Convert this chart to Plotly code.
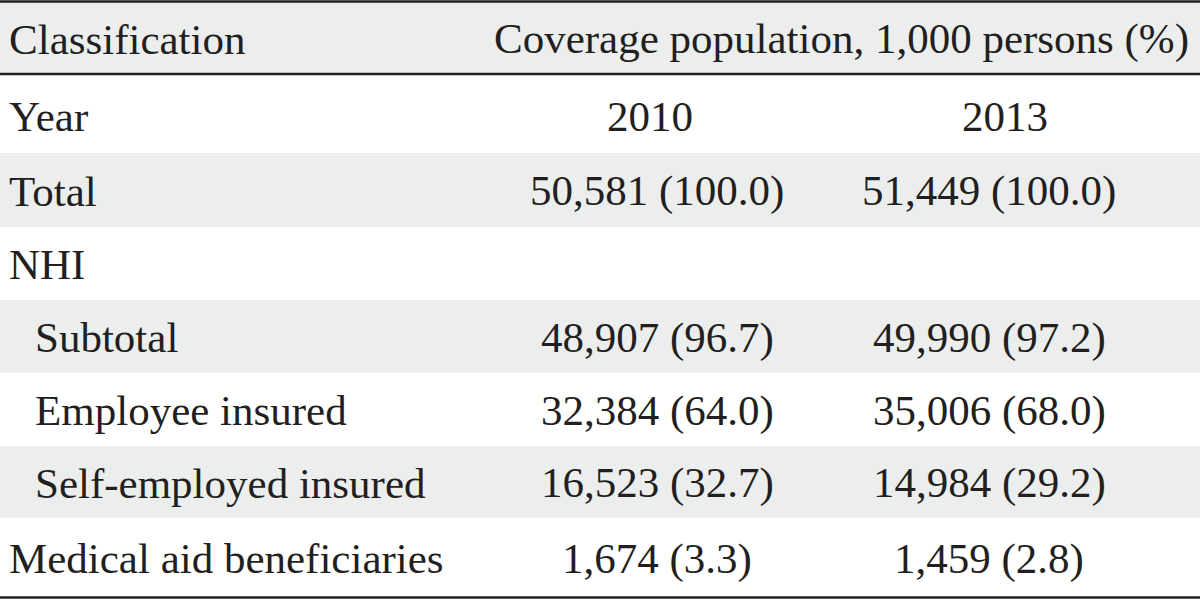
import plotly.graph_objects as go

# ---- data ----
header_left = "Classification"
header_right = "Coverage population, 1,000 persons (%)"
row_labels = ["Year", "Total", "NHI", "Subtotal", "Employee insured",
              "Self-employed insured", "Medical aid beneficiaries"]
row_indent = [0, 0, 0, 1, 1, 1, 0]
years = ["2010", "2013"]
pop_2010 = [50581, None, 48907, 32384, 16523, 1674]
pct_2010 = [100.0, None, 96.7, 64.0, 32.7, 3.3]
pop_2013 = [51449, None, 49990, 35006, 14984, 1459]
pct_2013 = [100.0, None, 97.2, 68.0, 29.2, 2.8]


def fmt(p, q):
    if p is None:
        return ""
    return f"{p:,} ({q:.1f})"


col_2010 = [years[0]] + [fmt(p, q) for p, q in zip(pop_2010, pct_2010)]
col_2013 = [years[1]] + [fmt(p, q) for p, q in zip(pop_2013, pct_2013)]

# ---- layout ----
W, H = 1200, 601
FONT = "Liberation Serif"
FS = 43
TXT = "#231f20"
BAND = "#eceeee"
header_top, header_bot = 2, 74
row_edges = [74, 153, 227, 300, 373, 446, 518, 597]
x_left, x_indent = 7, 33
x_c1, x_c2 = 657, 989
x_y1, x_y2 = 650, 1005
x_head = 841

fig = go.Figure()
shapes = []
annotations = []

shapes.append(dict(type="rect", x0=0, x1=W, y0=header_top, y1=header_bot,
                   fillcolor=BAND, line_width=0, layer="below"))
for i in range(len(row_labels)):
    if i % 2 == 1:
        shapes.append(dict(type="rect", x0=0, x1=W, y0=row_edges[i], y1=row_edges[i + 1],
                           fillcolor=BAND, line_width=0, layer="below"))
for y, w in [(1.5, 2.5), (74, 2.5), (597.5, 2.5)]:
    shapes.append(dict(type="line", x0=0, x1=W, y0=y, y1=y,
                       line=dict(color=TXT, width=w)))


def add_text(x, y, s, anchor):
    annotations.append(dict(x=x, y=y, text=s, showarrow=False, xanchor=anchor,
                            yanchor="middle", xref="x", yref="y",
                            font=dict(family=FONT, size=FS, color=TXT)))


hy = (header_top + header_bot) / 2 + 1
add_text(x_left, hy, header_left, "left")
add_text(x_head, hy, header_right, "center")

for i, lab in enumerate(row_labels):
    yc = (row_edges[i] + row_edges[i + 1]) / 2 + 1
    if i == 0:
        yc += 2
    add_text(x_indent if row_indent[i] else x_left, yc, lab, "left")
    if col_2010[i]:
        add_text(x_y1 if i == 0 else x_c1, yc, col_2010[i], "center")
    if col_2013[i]:
        add_text(x_y2 if i == 0 else x_c2, yc, col_2013[i], "center")

fig.update_layout(
    width=W, height=H,
    margin=dict(l=0, r=0, t=0, b=0),
    paper_bgcolor="white", plot_bgcolor="white",
    xaxis=dict(range=[0, W], visible=False, fixedrange=True),
    yaxis=dict(range=[H, 0], visible=False, fixedrange=True),
    shapes=shapes, annotations=annotations, showlegend=False,
)
fig.write_html("out.html", config={"displayModeBar": False},
               post_script="document.body.style.margin='0';document.body.style.overflow='hidden';")
